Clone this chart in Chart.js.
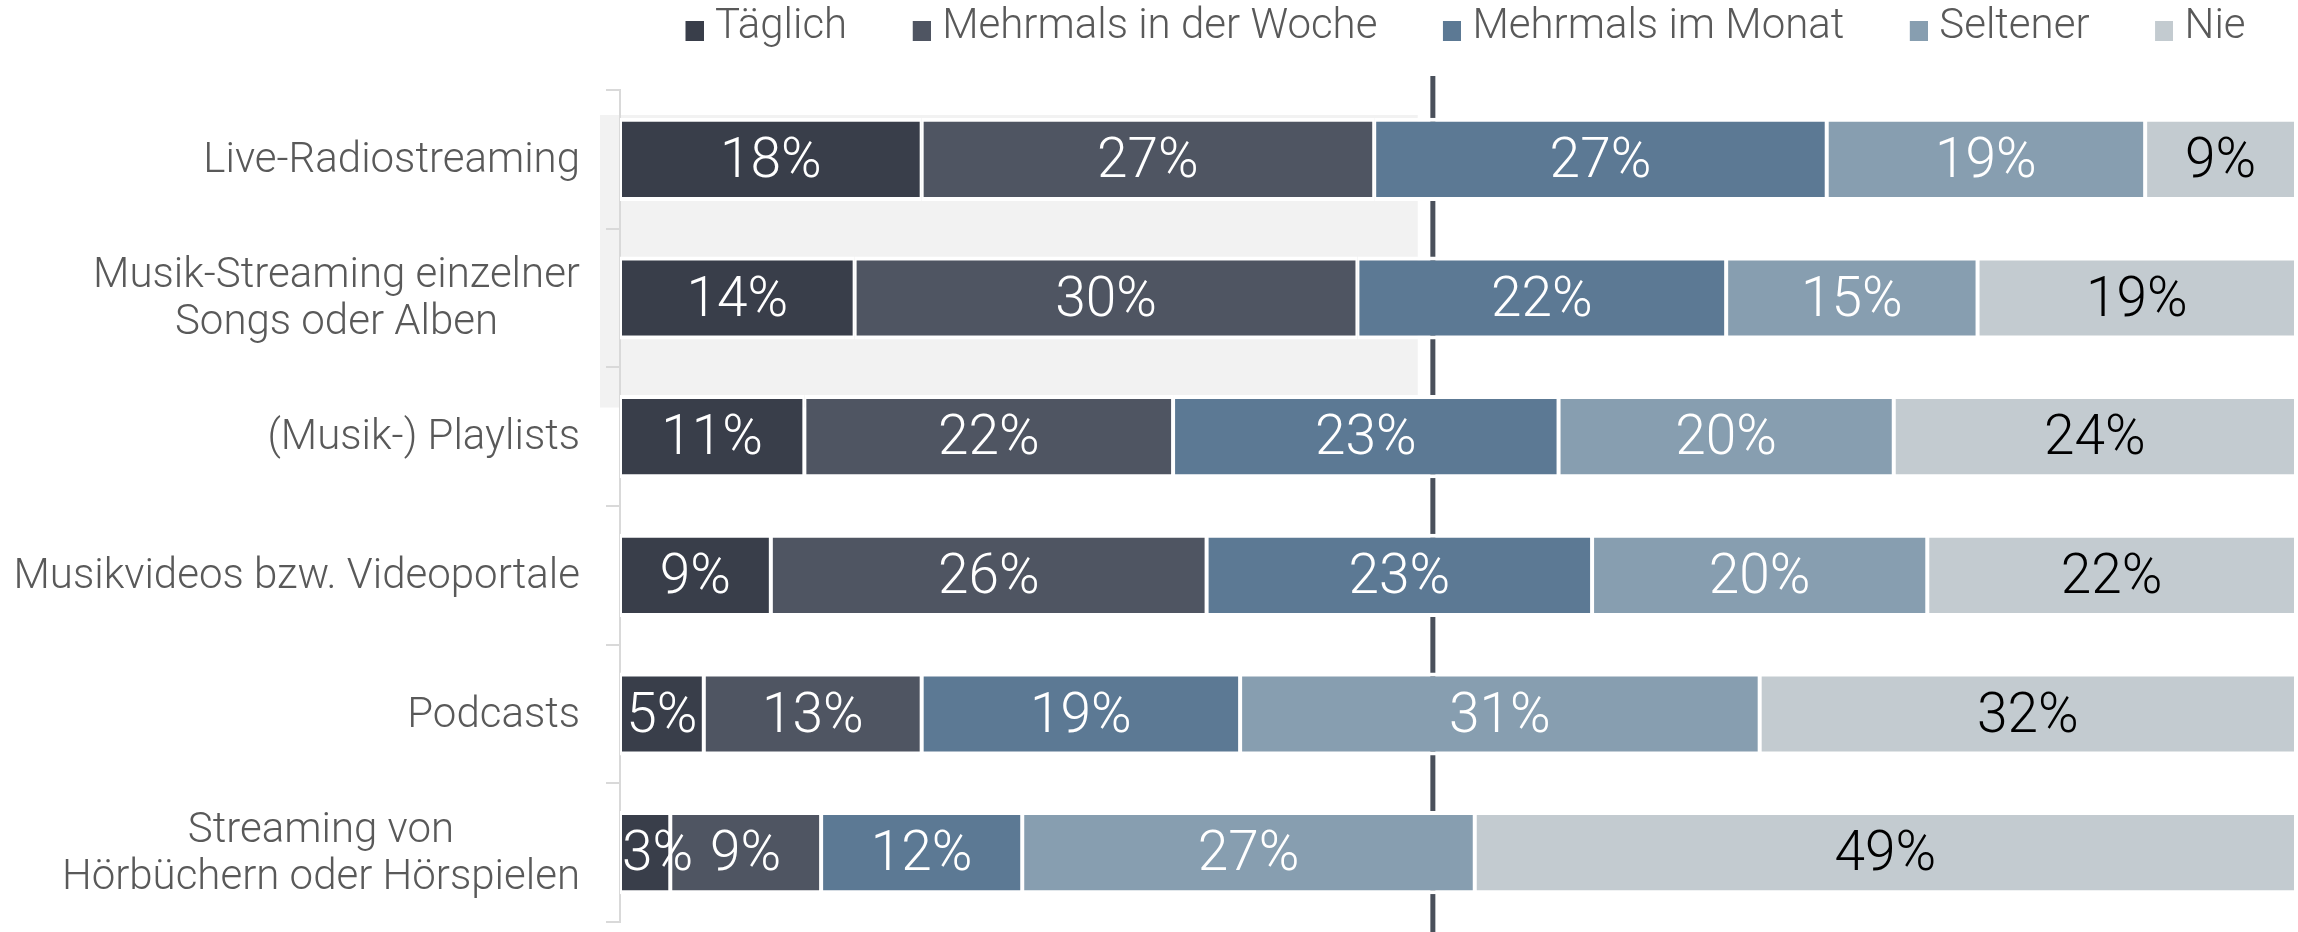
<!DOCTYPE html>
<html lang="de">
<head>
<meta charset="utf-8">
<title>Nutzungshäufigkeit Audio-Streaming</title>
<script src="https://cdn.jsdelivr.net/npm/chart.js@4.4.1/dist/chart.umd.min.js"></script>
<style>
  html, body { margin: 0; background: #fff; }
  canvas { display: block; }
</style>
</head>
<body>
<canvas id="chart" width="2298" height="932"></canvas>
<script>
const categories = [
  "Live-Radiostreaming",
  ["Musik-Streaming einzelner", "Songs oder Alben"],
  "(Musik-) Playlists",
  "Musikvideos bzw. Videoportale",
  "Podcasts",
  ["Streaming von", "Hörbüchern oder Hörspielen"],
];
const seriesNames = ["Täglich", "Mehrmals in der Woche", "Mehrmals im Monat", "Seltener", "Nie"];
const taeglich = [18, 14, 11, 9, 5, 3];
const mehrmalsWoche = [27, 30, 22, 26, 13, 9];
const mehrmalsMonat = [27, 22, 23, 23, 19, 12];
const seltener = [19, 15, 20, 20, 31, 27];
const nie = [9, 19, 24, 22, 32, 49];
const markerValue = 48.5;

const colors = ["#393e4a", "#4f5562", "#5c7994", "#879eb0", "#c3cbd0"];
const labelColors = ["#ffffff", "#ffffff", "#ffffff", "#ffffff", "#000000"];
const textGray = "#595959";
const family = "Roboto";

// legend square sits at the right end of a wider transparent swatch
const swatch = (color) => {
  const c = document.createElement("canvas");
  c.width = 87;
  c.height = 28;
  const g = c.getContext("2d");
  g.fillStyle = color;
  g.fillRect(c.width - 18, 8, 18, 20);
  return c;
};
const swatches = colors.map(swatch);

const legendSpacing = {
  id: "legendSpacing",
  beforeInit(chart) {
    const fit = chart.legend.fit;
    chart.legend.fit = function () {
      fit.call(this);
      this.height = 90;
    };
  },
};

// light highlight behind the first rows and the dark reference line
const backdrop = {
  id: "backdrop",
  beforeDraw(chart) {
    const { ctx, chartArea, scales: { x, y } } = chart;
    const top = y.getPixelForValue(-0.32);
    const bottom = y.getPixelForValue(1.79);
    const left = chartArea.left - 20;
    ctx.save();
    ctx.fillStyle = "#f2f2f2";
    ctx.fillRect(left, top, x.getPixelForValue(47.6) - left, bottom - top);
    ctx.restore();
  },
  beforeDatasetsDraw(chart) {
    const { ctx, chartArea, scales: { x } } = chart;
    const px = x.getPixelForValue(markerValue);
    ctx.save();
    ctx.strokeStyle = "#4a505b";
    ctx.lineWidth = 5;
    ctx.beginPath();
    ctx.moveTo(px, chartArea.top - 14);
    ctx.lineTo(px, chart.height);
    ctx.stroke();
    ctx.restore();
  },
};

const valueLabels = {
  id: "valueLabels",
  afterDatasetsDraw(chart) {
    const { ctx, chartArea } = chart;
    ctx.save();
    ctx.beginPath();
    ctx.rect(chartArea.left, chartArea.top, chartArea.width, chartArea.height);
    ctx.clip();
    ctx.font = `300 55px ${family}`;
    ctx.textAlign = "center";
    ctx.textBaseline = "middle";
    chart.data.datasets.forEach((ds, i) => {
      ctx.fillStyle = labelColors[i];
      chart.getDatasetMeta(i).data.forEach((bar, j) => {
        const { x, y, base } = bar.getProps(["x", "y", "base"], true);
        const text = ds.data[j] + "%";
        const half = ctx.measureText(text).width / 2;
        const cx = Math.max((x + base) / 2, chartArea.left + half + 2);
        ctx.fillText(text, cx, y + 4);
      });
    });
    ctx.restore();
  },
};

// right-aligned label blocks, lines centred inside each block
const categoryLabels = {
  id: "categoryLabels",
  afterDraw(chart) {
    const { ctx, scales: { y } } = chart;
    const right = y.right - 14 - 26;
    ctx.save();
    ctx.font = `300 42px ${family}`;
    ctx.fillStyle = textGray;
    ctx.textAlign = "center";
    ctx.textBaseline = "middle";
    chart.data.labels.forEach((label, i) => {
      const lines = [].concat(label);
      const w = Math.max(...lines.map((l) => ctx.measureText(l).width));
      const cy = y.getPixelForValue(i) + 2;
      lines.forEach((line, k) => {
        ctx.fillText(line, right - w / 2, cy + (k - (lines.length - 1) / 2) * 47);
      });
    });
    ctx.restore();
  },
};

const series = [taeglich, mehrmalsWoche, mehrmalsMonat, seltener, nie];

new Chart(document.getElementById("chart"), {
  type: "bar",
  data: {
    labels: categories,
    datasets: series.map((data, i) => ({
      label: seriesNames[i],
      data,
      backgroundColor: colors[i],
      borderColor: "#ffffff",
      borderWidth: { top: 4, bottom: 4, left: 2, right: 2 },
      borderSkipped: false,
      categoryPercentage: 0.6,
      barPercentage: 1,
    })),
  },
  options: {
    indexAxis: "y",
    responsive: false,
    devicePixelRatio: 1,
    animation: false,
    events: [],
    layout: { padding: { top: 0, right: 2, bottom: 10, left: 0 } },
    scales: {
      x: { stacked: true, min: 0, max: 100, display: false },
      y: {
        stacked: true,
        afterFit: (scale) => {
          scale.width = 620;
        },
        border: { color: "#d9d9d9", width: 2 },
        grid: { drawOnChartArea: false, color: "#d9d9d9", lineWidth: 2, tickLength: 14 },
        ticks: { display: false },
      },
    },
    plugins: {
      tooltip: { enabled: false },
      legend: {
        position: "top",
        align: "start",
        fullSize: false,
        labels: {
          usePointStyle: true,
          pointStyleWidth: 68,
          padding: 6,
          color: textGray,
          font: { family, size: 42, weight: 300 },
          generateLabels: (chart) =>
            chart.data.datasets.map((ds, i) => ({
              text: ds.label,
              fillStyle: ds.backgroundColor,
              strokeStyle: ds.backgroundColor,
              lineWidth: 0,
              pointStyle: swatches[i],
              fontColor: textGray,
              datasetIndex: i,
            })),
        },
      },
    },
  },
  plugins: [legendSpacing, backdrop, valueLabels, categoryLabels],
});
</script>
</body>
</html>
